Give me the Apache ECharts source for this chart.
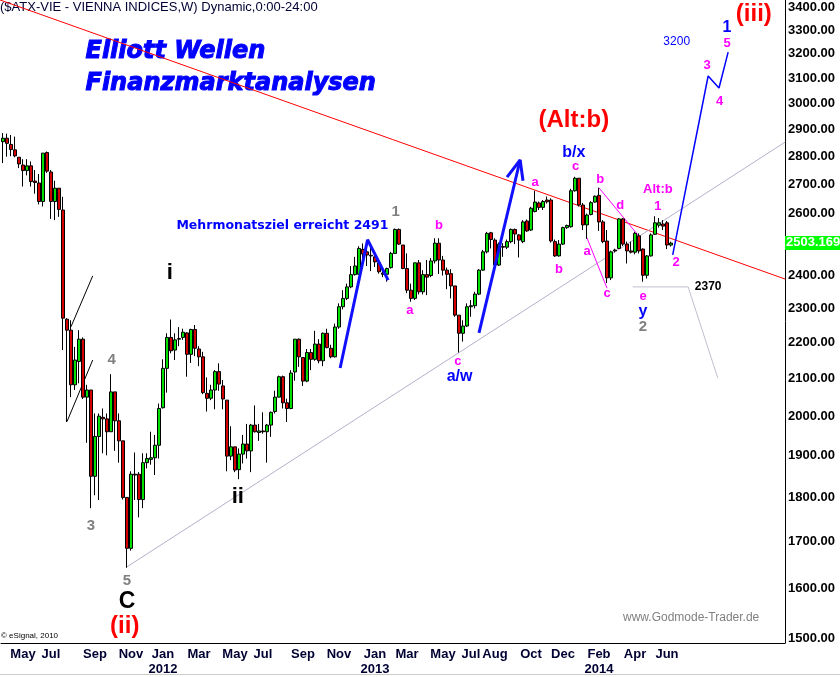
<!DOCTYPE html>
<html><head><meta charset="utf-8">
<script src="https://cdn.jsdelivr.net/npm/echarts@6/dist/echarts.min.js"></script>
<style>html,body{margin:0;padding:0;background:#fff}#c{width:840px;height:677px}</style>
</head><body><div id="c"></div>
<script>
// ---- data (weekly candles, first week starting 2011-03-28) ----
const startDate = '2011-03-28';
const totalWeeks = 196; // axis length incl. empty future weeks
const opens  = [2855,2868,2845,2825,2798,2770,2750,2767,2713,2706,2642,2815,2745,2642,2688,2613,2268,2236,2083,2147,2210,2050,2069,1850,1948,1997,1993,1960,2064,1988,1937,1800,1685,1855,1855,1795,1883,1891,1895,1926,2022,2128,2215,2179,2210,2215,2228,2167,2238,2182,2160,2060,2047,2069,2119,2080,2042,1899,1922,1866,1904,1929,1912,1977,1958,1962,1960,1977,2012,2050,2105,2035,2020,2118,2210,2158,2093,2172,2153,2196,2149,2227,2184,2160,2245,2305,2330,2365,2403,2404,2483,2475,2464,2459,2440,2408,2404,2425,2470,2548,2497,2422,2355,2330,2440,2350,2403,2400,2446,2503,2449,2417,2406,2368,2280,2227,2248,2305,2308,2343,2417,2475,2537,2513,2433,2492,2490,2508,2548,2530,2508,2576,2546,2608,2637,2622,2647,2647,2508,2462,2500,2554,2557,2679,2723,2630,2563,2598,2640,2663,2573,2510,2393,2481,2486,2583,2500,2478,2474,2527,2484,2401,2462,2532,2562,2566,2570,2497];
const highs  = [2887,2885,2880,2874,2798,2791,2791,2783,2752,2738,2813,2819,2752,2714,2688,2658,2271,2265,2188,2236,2215,2083,2069,2007,2007,2020,2007,2112,2064,2007,1937,1800,1862,1908,1860,1906,1906,1960,1952,2033,2153,2227,2267,2227,2245,2240,2230,2240,2251,2190,2174,2103,2083,2123,2142,2096,2042,1974,1922,1918,1952,1980,1980,2028,1980,2010,1980,2012,2067,2108,2108,2046,2123,2210,2212,2158,2182,2182,2234,2210,2229,2240,2194,2255,2315,2355,2375,2430,2459,2493,2502,2505,2490,2472,2449,2420,2425,2475,2551,2551,2497,2470,2375,2440,2449,2417,2449,2455,2519,2519,2462,2425,2420,2368,2280,2265,2315,2325,2350,2420,2481,2540,2540,2519,2505,2503,2515,2551,2551,2533,2579,2581,2624,2679,2642,2647,2659,2653,2515,2513,2557,2564,2686,2728,2723,2637,2601,2643,2663,2690,2579,2546,2479,2485,2586,2586,2508,2508,2540,2535,2486,2465,2535,2592,2586,2579,2576,2508];
const lows   = [2777,2800,2802,2798,2759,2694,2733,2694,2669,2632,2625,2742,2583,2579,2590,2179,1985,2050,2069,2087,2045,1932,1775,1805,1794,1906,1901,1960,1912,1883,1795,1643,1680,1794,1754,1775,1869,1878,1853,1893,2020,2062,2170,2151,2190,2208,2105,2143,2162,2134,2058,2012,2042,2018,2067,2018,1862,1889,1860,1843,1881,1893,1860,1958,1937,1955,1883,1947,2007,2050,2020,1985,2018,2094,2132,2080,2090,2123,2149,2142,2134,2184,2156,2158,2240,2297,2325,2361,2400,2403,2422,2430,2414,2427,2406,2395,2381,2422,2468,2497,2420,2346,2320,2325,2342,2342,2340,2395,2438,2405,2400,2358,2330,2275,2172,2203,2245,2275,2300,2340,2415,2470,2486,2430,2430,2459,2484,2503,2500,2457,2503,2540,2543,2605,2613,2613,2635,2505,2459,2460,2497,2550,2554,2676,2625,2546,2517,2595,2638,2543,2503,2377,2386,2473,2484,2494,2438,2470,2467,2470,2381,2391,2460,2530,2554,2546,2484,2492];
const closes = [2868,2849,2826,2803,2774,2750,2767,2711,2708,2642,2813,2748,2642,2688,2615,2271,2236,2083,2151,2210,2050,2069,1850,1948,2000,1993,1960,2064,1988,1937,1800,1685,1855,1853,1795,1883,1893,1895,1926,2020,2128,2215,2177,2208,2212,2230,2167,2238,2184,2160,2062,2047,2069,2119,2085,2045,1899,1922,1865,1904,1929,1912,1977,1960,1962,1960,1977,2010,2050,2105,2035,2020,2115,2210,2160,2093,2172,2153,2196,2149,2227,2186,2160,2245,2305,2330,2365,2403,2430,2486,2468,2465,2462,2443,2412,2404,2422,2470,2548,2500,2422,2355,2330,2440,2350,2403,2395,2446,2503,2449,2417,2404,2368,2280,2227,2248,2305,2308,2343,2417,2475,2535,2515,2433,2500,2490,2508,2548,2533,2513,2573,2543,2619,2640,2622,2642,2641,2510,2462,2500,2554,2561,2679,2723,2630,2563,2596,2638,2660,2573,2508,2393,2475,2478,2583,2500,2478,2474,2535,2478,2401,2462,2530,2570,2570,2559,2497,2503.169];

// y-axis tick labels
const yTicks = [3400,3300,3200,3100,3000,2900,2800,2700,2600,2400,2300,2200,2100,2000,1900,1800,1700,1600,1500];
// x-axis month labels (week they are drawn at) and text
const xTickWeeks  = ['2011-05-02','2011-06-20','2011-09-05','2011-11-07','2012-01-02','2012-03-05','2012-05-07','2012-06-25','2012-09-03','2012-11-05','2013-01-07','2013-03-04','2013-05-06','2013-06-24','2013-08-05','2013-10-07','2013-12-02','2014-02-03','2014-04-07','2014-06-02'];
const xTickLabels = ['May','Jul','Sep','Nov','Jan\n2012','Mar','May','Jul','Sep','Nov','Jan\n2013','Mar','May','Jul','Aug','Oct','Dec','Feb\n2014','Apr','Jun'];

// annotation lines: [week date, value]
const redTrend   = [['2011-03-23',3431],['2014-12-26',2389]];
const grayTrend  = [['2011-10-31',1645],['2014-12-26',2854]];
const chanUpper  = [['2011-07-25',2246],['2011-09-01',2399]];
const chanLower  = [['2011-07-18',1986],['2011-09-01',2151]];
const blueArrow1 = [['2012-11-07',2129],['2012-12-25',2514],['2013-01-30',2386]];
const blueArrow2 = [['2013-07-08',2228],['2013-09-18',2788]];
const blueHead2  = [['2013-08-26',2727],['2013-09-18',2788],['2013-09-23',2714]];
const blueProj   = [['2014-06-12',2465],['2014-08-13',3109],['2014-09-01',3061],['2014-09-17',3207]];
const grayProj   = [['2014-04-03',2365],['2014-07-09',2365],['2014-08-30',2101]];
const magLine1   = [['2014-02-03',2689],['2014-04-12',2530]];
const magLine2   = [['2014-01-13',2520],['2014-02-17',2361]];

// annotation labels: [text, week date, value, style]
const notes = [
  ['(iii)','2014-11-01',3369,'red'],['(Alt:b)','2013-12-21',2937,'red'],['(ii)','2011-10-27',1523,'red'],
  ['1','2014-09-15',3310,'blueBig'],['b/x','2013-12-21',2814,'blueBig'],['y','2014-04-21',2291,'blueBig'],['a/w','2013-06-04',2105,'blueBig'],
  ['5','2014-09-15',3245,'mag'],['3','2014-08-11',3150,'mag'],['4','2014-09-02',3010,'mag'],
  ['c','2013-12-24',2766,'mag'],['a','2013-10-14',2709,'mag'],['b','2014-02-05',2720,'mag'],['d','2014-03-12',2628,'mag'],
  ['Alt:b','2014-05-17',2683,'mag'],['1','2014-05-17',2624,'mag'],['2','2014-06-18',2440,'mag'],
  ['b','2013-11-25',2419,'mag'],['a','2014-01-13',2476,'mag'],['c','2014-02-17',2346,'mag'],['e','2014-04-21',2337,'mag'],
  ['b','2013-04-29',2561,'mag'],['a','2013-03-09',2294,'mag'],['c','2013-06-01',2148,'mag'],
  ['1','2013-02-12',2607,'gray'],['2','2014-04-21',2246,'gray'],['4','2011-10-04',2151,'gray'],['3','2011-08-29',1735,'gray'],['5','2011-10-31',1615,'gray'],
  ['i','2012-01-14',2409,'black'],['ii','2012-05-12',1800,'black'],['C','2011-10-31',1573,'blackBig'],
  ['2370','2014-08-13',2365,'small'],['3200','2014-06-19',3249,'blueSmall'],
  ['Mehrmonatsziel erreicht 2491','2012-07-29',2561,'blueText']
];

// ---- build ----
const DAY = 86400000;
const t0 = Date.parse(startDate + 'T00:00:00Z');
const wk = d => (Date.parse(d + 'T00:00:00Z') - t0) / (7 * DAY);
const L = Math.log;
const cats = [];
for (let i = 0; i < totalWeeks; i++) cats.push(new Date(t0 + i * 7 * DAY).toISOString().slice(0, 10));
const candles = closes.map((c, i) => [L(opens[i]), L(c), L(lows[i]), L(highs[i])]);
const tickIdx = {};
xTickWeeks.forEach((d, k) => { tickIdx[Math.round(wk(d))] = xTickLabels[k]; });

const FONT = 'Liberation Sans, Arial, sans-serif';
const styles = {
  red:      {color:'#ff0000', fontSize:24, fontWeight:'bold'},
  blueBig:  {color:'#0000ff', fontSize:16, fontWeight:'bold'},
  mag:      {color:'#ff00ff', fontSize:13, fontWeight:'bold'},
  gray:     {color:'#808080', fontSize:15, fontWeight:'bold'},
  black:    {color:'#000000', fontSize:22, fontWeight:'bold'},
  blackBig: {color:'#000000', fontSize:23, fontWeight:'bold'},
  small:    {color:'#000000', fontSize:12, fontWeight:'bold'},
  blueSmall:{color:'#0000ff', fontSize:12, fontWeight:'normal'},
  blueText: {color:'#0000ff', fontSize:12.5, fontWeight:'bold', fontFamily:'DejaVu Sans, sans-serif'}
};
const lineSeries = (pts, color, width, type) => ({
  type:'line', xAxisIndex:1, yAxisIndex:0, silent:true, symbol:'none', animation:false,
  data: pts.map(p => [wk(p[0]), L(p[1])]),
  lineStyle:{color:color, width:width, type:type || 'solid'}, z:3
});

const chart = echarts.init(document.getElementById('c'), null, {renderer:'canvas'});
const staticGraphics = [
  {type:'text', left:0, top:1, style:{text:'($ATX-VIE - VIENNA INDICES,W) Dynamic,0:00-24:00', font:'13px '+FONT, fill:'#000033'}},
  {type:'text', left:85, top:39, style:{text:'Elliott Wellen', font:'italic bold 24px DejaVu Sans, sans-serif', fill:'#0000ff', stroke:'#0000ff', lineWidth:1}},
  {type:'text', left:85, top:71, style:{text:'Finanzmarktanalysen', font:'italic bold 24px DejaVu Sans, sans-serif', fill:'#0000ff', stroke:'#0000ff', lineWidth:1}},
  {type:'text', left:623, top:612, style:{text:'www.Godmode-Trader.de', font:'12px '+FONT, fill:'#808080'}},
  {type:'text', left:1, top:632, style:{text:'\u00a9 eSignal, 2010', font:'8px '+FONT, fill:'#000'}},
  {type:'rect', left:0, top:674, shape:{width:840, height:1}, style:{fill:'#cccccc'}}
];
const option = {
  animation:false,
  backgroundColor:'#ffffff',
  grid:{left:1, right:55, top:0, bottom:34, containLabel:false},
  xAxis:[{
    type:'category', data:cats, boundaryGap:true,
    axisLine:{show:true, onZero:false, lineStyle:{color:'#000', width:1}},
    axisTick:{show:false}, splitLine:{show:false},
    axisLabel:{
      interval:(i) => tickIdx[i] !== undefined,
      formatter:(v, i) => tickIdx[i] || '',
      fontFamily:FONT, fontWeight:'bold', fontSize:13, color:'#000033', margin:4, lineHeight:15
    }
  },{
    type:'value', min:-0.5, max:totalWeeks - 0.5, show:false
  }],
  yAxis:[{
    type:'value', position:'right', min:L(1490.3), max:L(3431), scale:true,
    axisLine:{show:true, onZero:false, lineStyle:{color:'#000', width:1}},
    axisTick:{show:false}, splitLine:{show:false},
    axisLabel:{
      customValues: yTicks.map(L),
      formatter:(v) => Math.exp(v).toFixed(2),
      fontFamily:FONT, fontWeight:'bold', fontSize:13, color:'#000', margin:3
    }
  }],
  series:[
    lineSeries(redTrend, '#ff0000', 1),
    lineSeries(grayTrend, '#b8aecb', 1),
    lineSeries(chanUpper, '#000000', 1),
    lineSeries(chanLower, '#000000', 1),
    lineSeries(grayProj, '#c4bed2', 1),
    lineSeries(magLine1, '#ff00ff', 1),
    lineSeries(magLine2, '#ff00ff', 1),
    {
      type:'candlestick', xAxisIndex:0, yAxisIndex:0, data:candles, barWidth:3, z:4,
      itemStyle:{color:'#00e000', color0:'#d40000', borderColor:'#000', borderColor0:'#000', borderWidth:1}
    },
    Object.assign(lineSeries(blueArrow1, '#1010ff', 3), {z:5}),
    Object.assign(lineSeries(blueArrow2, '#1010ff', 3), {z:5}),
    Object.assign(lineSeries(blueHead2, '#1010ff', 3), {z:5}),
    Object.assign(lineSeries(blueProj, '#0000ff', 1.5), {z:5}),
    {
      type:'scatter', xAxisIndex:1, yAxisIndex:0, silent:true, z:6,
      symbol:'circle', symbolSize:1, itemStyle:{color:'rgba(0,0,0,0)', opacity:1},
      data: notes.map(n => ({
        value:[wk(n[1]), L(n[2])],
        label:Object.assign({show:true, position:'inside', formatter:n[0], fontFamily:FONT, textBorderWidth:0, opacity:1}, styles[n[3]])
      }))
    }
  ],
  graphic: staticGraphics
};
chart.setOption(option);
// current price box on the axis, placed from the last close
const lastIdx = closes.length - 1;
const py = chart.convertToPixel({yAxisIndex:0}, L(closes[lastIdx]));
const gx = chart.convertToPixel({xAxisIndex:0}, cats[totalWeeks - 1]) + 2;
chart.setOption({graphic: staticGraphics.concat([
  {type:'rect', left:gx, top:py - 7, shape:{width:56, height:14}, style:{fill:'#00ff00'}, z:10},
  {type:'text', left:gx + 1, top:py - 7, style:{text:closes[lastIdx].toFixed(3), font:'bold 13px '+FONT, fill:'#ffffff'}, z:11}
])}, {replaceMerge:['graphic']});
</script>
</body></html>
